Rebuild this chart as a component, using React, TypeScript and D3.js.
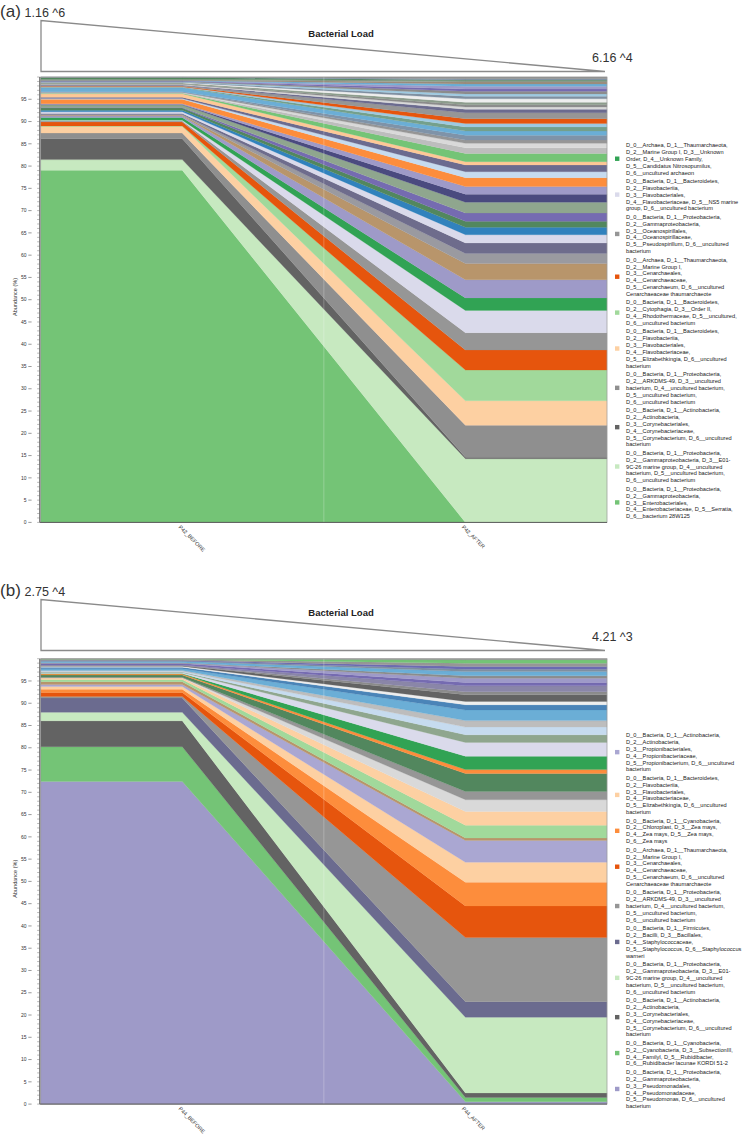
import React from "react";
import * as d3 from "d3";

// ---------- Panel (a) data ----------
const samplesA = ["P42_BEFORE", "P42_AFTER"];
const loadA = ["1.16 ^6", "6.16 ^4"];
// layers listed bottom -> top
const colorsA = [
  "#74c476", "#c7e9c0", "#636363", "#8f8f8f", "#fdd0a2", "#a1d99b", "#e6550d", "#969696", "#dadaeb", "#31a354",
  "#9e9ac8", "#b8956b", "#9a9aa0", "#6e6c8c", "#dadaeb", "#3182bd", "#52875e", "#756bb1", "#8fa68e", "#4a4a7f",
  "#9e9ac8", "#fd8d3c", "#c6dbef", "#6b6b8f", "#fdc896", "#74c476", "#bdbdbd", "#d9d9d9", "#969696", "#7f93a8",
  "#6baed6", "#74a08c", "#9ecae1", "#e6550d", "#969696", "#6b6b8f", "#d9d9d9", "#8c8c8c", "#8c9c8c", "#eeeeee",
  "#7f8fa0", "#9ecae1", "#8c8c8c", "#756bb1", "#9e9ac8", "#6baed6", "#9c8c7c", "#8c9c8c", "#52875e", "#7f93a8", "#8c8c8c",
];
const beforeA = [
  79.05, 2.4, 4.7, 1.25, 1.5, 0.1, 0.9, 0.2, 0.2, 0.6,
  0.35, 0.15, 0.2, 0.2, 0.4, 0.35, 0.5, 0.1, 0.6, 0.1,
  0.15, 1.0, 0.15, 0.3, 0.8, 0.1, 0.1, 0.1, 0.05, 0.1,
  0.9, 0.1, 0.1, 0.1, 0.2, 0.1, 0.15, 0.1, 0.2, 0.1,
  0.1, 0.1, 0.1, 0.05, 0.05, 0.05, 0.1, 0.2, 0.4, 0.05, 0.05,
];
const afterA = [
  0, 14.3, 0.3, 7.2, 5.5, 6.9, 4.5, 3.9, 5.0, 2.8,
  4.1, 3.6, 2.3, 2.35, 1.85, 1.65, 1.35, 1.85, 2.45, 1.8,
  1.7, 2.0, 1.35, 1.5, 0.75, 1.85, 1.25, 1.0, 0.75, 1.1,
  0.9, 0.95, 0.75, 1.1, 1.35, 0.75, 0.5, 0.5, 0.6, 0.75,
  0.6, 0.5, 0.6, 0.5, 0.6, 0.55, 0.45, 0.3, 0.1, 0.3, 0.4,
];
// legend top -> bottom
const legendColorsA = ["#31a354", "#dadaeb", "#969696", "#e6550d", "#a1d99b", "#fdd0a2", "#8f8f8f", "#636363", "#c7e9c0", "#74c476"];
const legendA = [
  ["D_0__Archaea, D_1__Thaumarchaeota,", "D_2__Marine Group I, D_3__Unknown", "Order, D_4__Unknown Family,", "D_5__Candidatus Nitrosopumilus,", "D_6__uncultured archaeon"],
  ["D_0__Bacteria, D_1__Bacteroidetes,", "D_2__Flavobacteriia,", "D_3__Flavobacteriales,", "D_4__Flavobacteriaceae, D_5__NS5 marine", "group, D_6__uncultured bacterium"],
  ["D_0__Bacteria, D_1__Proteobacteria,", "D_2__Gammaproteobacteria,", "D_3__Oceanospirillales,", "D_4__Oceanospirillaceae,", "D_5__Pseudospirillum, D_6__uncultured", "bacterium"],
  ["D_0__Archaea, D_1__Thaumarchaeota,", "D_2__Marine Group I,", "D_3__Cenarchaeales,", "D_4__Cenarchaeaceae,", "D_5__Cenarchaeum, D_6__uncultured", "Cenarchaeaceae thaumarchaeote"],
  ["D_0__Bacteria, D_1__Bacteroidetes,", "D_2__Cytophagia, D_3__Order II,", "D_4__Rhodothermaceae, D_5__uncultured,", "D_6__uncultured bacterium"],
  ["D_0__Bacteria, D_1__Bacteroidetes,", "D_2__Flavobacteriia,", "D_3__Flavobacteriales,", "D_4__Flavobacteriaceae,", "D_5__Elizabethkingia, D_6__uncultured", "bacterium"],
  ["D_0__Bacteria, D_1__Proteobacteria,", "D_2__ARKDMS-49, D_3__uncultured", "bacterium, D_4__uncultured bacterium,", "D_5__uncultured bacterium,", "D_6__uncultured bacterium"],
  ["D_0__Bacteria, D_1__Actinobacteria,", "D_2__Actinobacteria,", "D_3__Corynebacteriales,", "D_4__Corynebacteriaceae,", "D_5__Corynebacterium, D_6__uncultured", "bacterium"],
  ["D_0__Bacteria, D_1__Proteobacteria,", "D_2__Gammaproteobacteria, D_3__E01-", "9C-26 marine group, D_4__uncultured", "bacterium, D_5__uncultured bacterium,", "D_6__uncultured bacterium"],
  ["D_0__Bacteria, D_1__Proteobacteria,", "D_2__Gammaproteobacteria,", "D_3__Enterobacteriales,", "D_4__Enterobacteriaceae, D_5__Serratia,", "D_6__bacterium 28W125"],
];

// ---------- Panel (b) data ----------
const samplesB = ["P44_BEFORE", "P44_AFTER"];
const loadB = ["2.75 ^4", "4.21 ^3"];
const colorsB = [
  "#9e9ac8", "#74c476", "#636363", "#c7e9c0", "#6b6b8f", "#969696", "#e6550d", "#fd8d3c", "#fdd0a2", "#aaa7d2",
  "#b8956b", "#a1d99b", "#fdd0a2", "#d9d9d9", "#969696", "#52875e", "#fd8d3c", "#31a354", "#dadaeb", "#8fa68e",
  "#c6dbef", "#bdbdbd", "#6baed6", "#4a84b8", "#eeeeee", "#636363", "#8c8c8c", "#8a86a8", "#756bb1", "#9e9ac8",
  "#8c8c8c", "#6baed6", "#7f8fa0", "#6b6bb1", "#969696", "#74c476", "#8c8c8c",
];
const beforeB = [
  72.45, 7.8, 5.8, 1.9, 3.2, 0.35, 0.9, 0.75, 0.6, 0.45,
  0.65, 0.5, 0.3, 0.1, 0.1, 0.5, 0.2, 0.15, 0.2, 0.1,
  0.2, 0.15, 0.4, 0.35, 0.2, 0.1, 0.1, 0.1, 0.3, 0.1,
  0.1, 0.3, 0.1, 0.1, 0.2, 0.1, 0.1,
];
const afterB = [
  0.5, 1.0, 1.0, 17.0, 3.5, 14.4, 7.1, 5.3, 4.5, 4.9,
  0.55, 2.85, 3.1, 2.65, 1.85, 4.0, 0.9, 3.0, 3.1, 1.7,
  1.75, 1.45, 2.4, 1.15, 0.75, 1.5, 0.7, 1.3, 0.75, 0.95,
  0.55, 0.95, 0.55, 0.6, 0.75, 0.75, 0.25,
];
const legendColorsB = ["#aaa7d2", "#fdd0a2", "#fd8d3c", "#e6550d", "#969696", "#6b6b8f", "#c7e9c0", "#636363", "#74c476", "#9e9ac8"];
const legendB = [
  ["D_0__Bacteria, D_1__Actinobacteria,", "D_2__Actinobacteria,", "D_3__Propionibacteriales,", "D_4__Propionibacteriaceae,", "D_5__Propionibacterium, D_6__uncultured", "bacterium"],
  ["D_0__Bacteria, D_1__Bacteroidetes,", "D_2__Flavobacteriia,", "D_3__Flavobacteriales,", "D_4__Flavobacteriaceae,", "D_5__Elizabethkingia, D_6__uncultured", "bacterium"],
  ["D_0__Bacteria, D_1__Cyanobacteria,", "D_2__Chloroplast, D_3__Zea mays,", "D_4__Zea mays, D_5__Zea mays,", "D_6__Zea mays"],
  ["D_0__Archaea, D_1__Thaumarchaeota,", "D_2__Marine Group I,", "D_3__Cenarchaeales,", "D_4__Cenarchaeaceae,", "D_5__Cenarchaeum, D_6__uncultured", "Cenarchaeaceae thaumarchaeote"],
  ["D_0__Bacteria, D_1__Proteobacteria,", "D_2__ARKDMS-49, D_3__uncultured", "bacterium, D_4__uncultured bacterium,", "D_5__uncultured bacterium,", "D_6__uncultured bacterium"],
  ["D_0__Bacteria, D_1__Firmicutes,", "D_2__Bacilli, D_3__Bacillales,", "D_4__Staphylococcaceae,", "D_5__Staphylococcus, D_6__Staphylococcus", "warneri"],
  ["D_0__Bacteria, D_1__Proteobacteria,", "D_2__Gammaproteobacteria, D_3__E01-", "9C-26 marine group, D_4__uncultured", "bacterium, D_5__uncultured bacterium,", "D_6__uncultured bacterium"],
  ["D_0__Bacteria, D_1__Actinobacteria,", "D_2__Actinobacteria,", "D_3__Corynebacteriales,", "D_4__Corynebacteriaceae,", "D_5__Corynebacterium, D_6__uncultured", "bacterium"],
  ["D_0__Bacteria, D_1__Cyanobacteria,", "D_2__Cyanobacteria, D_3__SubsectionIII,", "D_4__FamilyI, D_5__Rubidibacter,", "D_6__Rubidibacter lacunae KORDI 51-2"],
  ["D_0__Bacteria, D_1__Proteobacteria,", "D_2__Gammaproteobacteria,", "D_3__Pseudomonadales,", "D_4__Pseudomonadaceae,", "D_5__Pseudomonas, D_6__uncultured", "bacterium"],
];

const majorTicks = d3.range(0, 100, 5);
const minorTicks = d3.range(0, 101, 1);

const PL = 40.7;
const PR = 607;
const FONT = "'Liberation Sans', Arial, sans-serif";

type PanelProps = {
  tag: string;
  samples: string[];
  load: string[];
  colors: string[];
  before: number[];
  after: number[];
  legend: string[][];
  legendColors: string[];
  triOff: number;
  plotOff: number;
  legendTop: number;
};

function Panel(p: PanelProps) {
  const y0 = 522.4 + p.plotOff;
  const y100 = 77 + p.plotOff;
  const x = d3.scalePoint<string>().domain(p.samples).range([PL, PR]).padding(0.5);
  const y = d3.scaleLinear().domain([0, 100]).range([y0, y100]);
  const keys = p.colors.map((_, k) => String(k));
  const rows = [p.before, p.after].map((vals) => {
    const o: Record<string, number> = {};
    vals.forEach((v, k) => (o[String(k)] = v));
    return o;
  });
  const series = d3.stack<Record<string, number>>().keys(keys)(rows);
  const xs = [PL, x(p.samples[0]) as number, x(p.samples[1]) as number, PR];
  const idx = [0, 0, 1, 1];
  const area = d3
    .area<[number, number]>()
    .x((_, i) => xs[i])
    .y0((d) => y(d[0]))
    .y1((d) => y(d[1]));

  const t = p.triOff;
  const LH = 6.86;
  const GAP = 1.6;
  let cursor = p.legendTop;
  const legendItems = p.legend.map((lines, e) => {
    const start = cursor;
    cursor += lines.length * LH + GAP;
    const center = start + ((lines.length - 1) * LH) / 2;
    return (
      <g key={e}>
        <rect x={615} y={center - 2.2} width={4.4} height={4.4} fill={p.legendColors[e]} />
        {lines.map((ln, j) => (
          <text key={j} x={626} y={start + j * LH + 2.1} fontSize={5.65} fill="#222" fontFamily={FONT}>
            {ln}
          </text>
        ))}
      </g>
    );
  });

  return (
    <g>
      <text x={0} y={17 + t} fontSize={17} fill="#333" fontFamily={FONT} fontWeight={300}>
        ({p.tag})
      </text>
      <text x={24.5} y={17 + t} fontSize={12.5} fill="#333" fontFamily={FONT}>
        {p.load[0]}
      </text>
      <path
        d={`M41,${20.5 + t} L41,${71.5 + t} L605,${71.5 + t} Z`}
        fill="none"
        stroke="#8a8a8a"
        strokeWidth={1.3}
        strokeLinejoin="miter"
      />
      <text x={341} y={36.5 + t} fontSize={9.5} fontWeight="bold" textAnchor="middle" fill="#222" fontFamily={FONT}>
        Bacterial Load
      </text>
      <text x={592} y={62 + t} fontSize={12.5} fill="#333" fontFamily={FONT}>
        {p.load[1]}
      </text>

      {series.map((s, k) => (
        <path
          key={k}
          d={area(idx.map((j) => s[j] as unknown as [number, number])) || ""}
          fill={p.colors[k]}
          stroke={p.colors[k]}
          strokeWidth={0.25}
        />
      ))}
      <line x1={(PL + PR) / 2} x2={(PL + PR) / 2} y1={y100} y2={y0} stroke="#ffffff" strokeOpacity={0.3} strokeWidth={0.8} />
      <rect x={PL} y={y100} width={PR - PL} height={y0 - y100} fill="none" stroke="#9a9a9a" strokeWidth={0.7} />
      <line x1={PL - 1} x2={PR} y1={y0} y2={y0} stroke="#555" strokeWidth={0.9} />
      <line x1={PL - 1} x2={PL - 1} y1={y100} y2={y0} stroke="#555" strokeWidth={0.9} />

      {minorTicks.map((v) => (
        <line key={"m" + v} x1={PL - 3.6} x2={PL - 1} y1={y(v)} y2={y(v)} stroke="#666" strokeWidth={0.45} />
      ))}
      {majorTicks.map((v) => (
        <g key={"M" + v}>
          <line x1={28.3} x2={31.6} y1={y(v)} y2={y(v)} stroke="#555" strokeWidth={0.6} />
          <text x={26.5} y={y(v) + 1.7} fontSize={5} textAnchor="end" fill="#333" fontFamily={FONT}>
            {v}
          </text>
        </g>
      ))}
      <text
        transform={`translate(16.5,${297 + p.plotOff}) rotate(-90)`}
        fontSize={5.5}
        textAnchor="middle"
        fill="#333"
        fontFamily={FONT}
      >
        Abundance (%)
      </text>
      {p.samples.map((s) => (
        <text
          key={s}
          transform={`translate(${(x(s) as number) - 4},${y0 + 5}) rotate(45)`}
          fontSize={5.4}
          fill="#333"
          fontFamily={FONT}
        >
          {s}
        </text>
      ))}
      {legendItems}
    </g>
  );
}

export default function App() {
  return (
    <svg
      width={745}
      height={1134}
      style={{ position: "absolute", left: 0, top: 0, background: "#fff" }}
      xmlns="http://www.w3.org/2000/svg"
    >
      <rect x={0} y={0} width={745} height={1134} fill="#fff" />
      <Panel
        tag="a"
        samples={samplesA}
        load={loadA}
        colors={colorsA}
        before={beforeA}
        after={afterA}
        legend={legendA}
        legendColors={legendColorsA}
        triOff={0}
        plotOff={0}
        legendTop={145}
      />
      <Panel
        tag="b"
        samples={samplesB}
        load={loadB}
        colors={colorsB}
        before={beforeB}
        after={afterB}
        legend={legendB}
        legendColors={legendColorsB}
        triOff={579}
        plotOff={581.7}
        legendTop={735}
      />
    </svg>
  );
}
